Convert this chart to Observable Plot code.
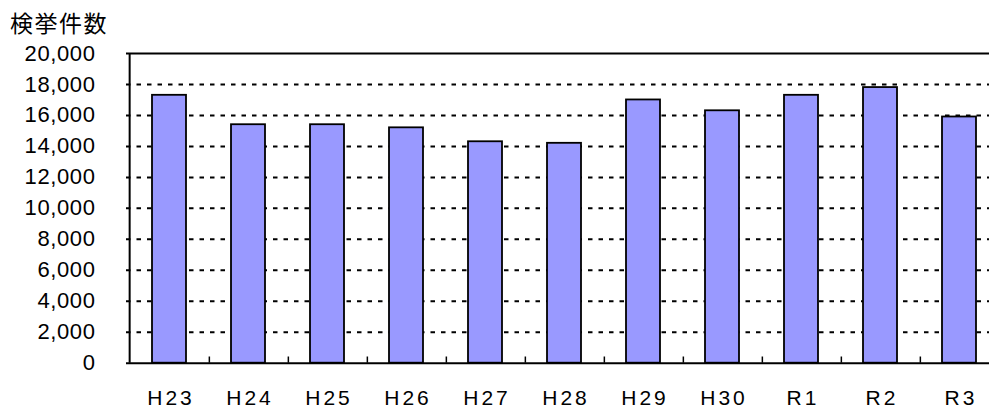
<!DOCTYPE html>
<html>
<head>
<meta charset="utf-8">
<script src="https://cdn.jsdelivr.net/npm/d3@7"></script>
<script src="https://cdn.jsdelivr.net/npm/@observablehq/plot@0.6"></script>
<style>
  html, body { margin: 0; padding: 0; background: white; overflow: hidden; }
  #title { height: 38px; padding-top: 2px; padding-left: 10px; line-height: 40px; letter-spacing: 1.5px;
           font-family: "Noto Sans CJK JP", sans-serif; font-size: 23px; color: #000; }
  g[aria-label="text"] text { letter-spacing: 3px; }
  g[aria-label="y-axis tick label"] text { letter-spacing: 0.6px; }
</style>
</head>
<body>
<div id="title">検挙件数</div>
<div id="chart"></div>
<script>
const years = ["H23", "H24", "H25", "H26", "H27", "H28", "H29", "H30", "R1", "R2", "R3"];
const counts = [17300, 15400, 15400, 15200, 14300, 14200, 17000, 16300, 17300, 17800, 15900];
const yTicks = [0, 2000, 4000, 6000, 8000, 10000, 12000, 14000, 16000, 18000, 20000];
const gridTicks = yTicks.filter(t => t > 0 && t < 20000);

const data = years.map((y, i) => ({year: y, count: counts[i]}));
const xRange = [126, 1002.7];
const step = (xRange[1] - xRange[0]) / years.length;

const chart = Plot.plot({
  width: 989,
  height: 369,
  marginTop: 13,
  marginBottom: 46.3,
  marginLeft: 126,
  marginRight: 0,
  style: {fontFamily: "'Liberation Sans', Arial, sans-serif", fontSize: "22px", color: "black", background: "white", overflow: "hidden"},
  x: {type: "band", domain: years, range: xRange, paddingInner: 0.573, paddingOuter: 0.2865, axis: null},
  y: {domain: [0, 20000], axis: null},
  marks: [
    Plot.ruleY(gridTicks, {stroke: "black", strokeWidth: 2, strokeDasharray: "4.5,6"}),
    Plot.ruleY([20000], {stroke: "black", strokeWidth: 2}),
    Plot.barY(data, {x: "year", y: "count", fill: "#9999ff", stroke: "black", strokeWidth: 1.8}),
    Plot.ruleY([0], {stroke: "black", strokeWidth: 2}),
    Plot.ruleX([years[0]], {x: d => d, dx: -step / 2, y1: 0, y2: 20000, stroke: "black", strokeWidth: 2}),
    Plot.ruleX(years, {x: d => d, dx: step / 2, y1: 0, y2: 400, stroke: "black", strokeWidth: 1.5}),
    Plot.text(years, {x: d => d, y: 0, dy: 35, dx: 1.5, text: d => d, fontSize: 21, fill: "black", lineAnchor: "middle"}),
    Plot.axisY({ticks: yTicks, tickSize: 0, tickPadding: 31, tickFormat: d3.format(","), fontSize: 22, label: null})
  ]
});
document.getElementById("chart").appendChild(chart);
</script>
</body>
</html>
